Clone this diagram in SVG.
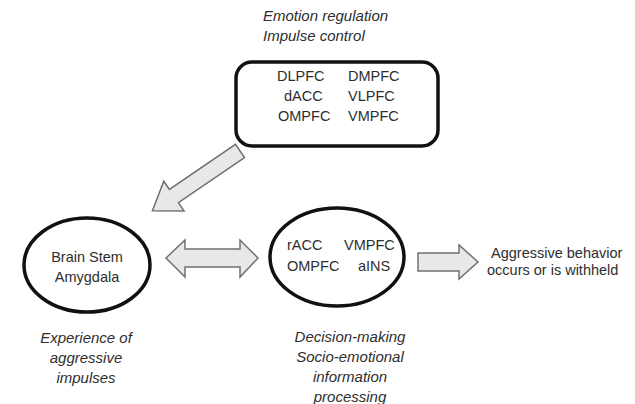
<svg xmlns="http://www.w3.org/2000/svg" width="635" height="404" viewBox="0 0 635 404">
<style>
.t{font-family:"Liberation Sans",Arial,sans-serif;font-size:14.5px;fill:#2e2e2e}
.i{font-family:"Liberation Sans",Arial,sans-serif;font-size:15px;font-style:italic;fill:#2e2e2e}
.node{fill:#fff;stroke:#111;stroke-width:3.5}
.arr{fill:#e8e8e8;stroke:#707070;stroke-width:1.5;stroke-linejoin:miter}
</style>
<rect width="635" height="404" fill="#fff"/>
<g id="labels-top">
<text class="i" x="263" y="21">Emotion regulation</text>
<text class="i" x="263" y="41">Impulse control</text>
</g>
<g id="pfc">
<rect class="node" x="236" y="62" width="202" height="84" rx="16"/>
<text class="t" x="277" y="81">DLPFC</text>
<text class="t" x="348" y="81">DMPFC</text>
<text class="t" x="284" y="101">dACC</text>
<text class="t" x="348" y="101">VLPFC</text>
<text class="t" x="278" y="121">OMPFC</text>
<text class="t" x="348" y="121">VMPFC</text>
</g>
<g id="brainstem">
<ellipse class="node" cx="87" cy="265" rx="63" ry="47"/>
<text class="t" x="87" y="262" text-anchor="middle">Brain Stem</text>
<text class="t" x="87" y="282" text-anchor="middle">Amygdala</text>
<text class="i" x="86" y="343" text-anchor="middle">Experience of</text>
<text class="i" x="86" y="363" text-anchor="middle">aggressive</text>
<text class="i" x="86" y="383" text-anchor="middle">impulses</text>
</g>
<g id="decision">
<ellipse class="node" cx="337" cy="257" rx="67" ry="49"/>
<text class="t" x="287" y="250">rACC</text>
<text class="t" x="344" y="250">VMPFC</text>
<text class="t" x="287" y="271">OMPFC</text>
<text class="t" x="358" y="271">aINS</text>
<text class="i" x="350" y="342" text-anchor="middle">Decision-making</text>
<text class="i" x="350" y="362" text-anchor="middle">Socio-emotional</text>
<text class="i" x="350" y="382" text-anchor="middle">information</text>
<text class="i" x="350" y="402" text-anchor="middle">processing</text>
</g>
<g id="outcome">
<text class="t" x="491" y="258">Aggressive behavior</text>
<text class="t" x="487" y="275">occurs or is withheld</text>
</g>
<g id="connectors">
<path class="arr" transform="translate(240,151) rotate(145.7)" d="M0,-8 L80,-8 L80,-18 L106,0 L80,18 L80,8 L0,8 Z"/>
<path class="arr" d="M166,258 L185,240 L185,249 L240,249 L240,240 L258,258 L240,277 L240,267 L185,267 L185,277 Z"/>
<path class="arr" d="M418,253 L459,253 L459,245 L478,262 L459,279 L459,271 L418,271 Z"/>
</g>
</svg>
